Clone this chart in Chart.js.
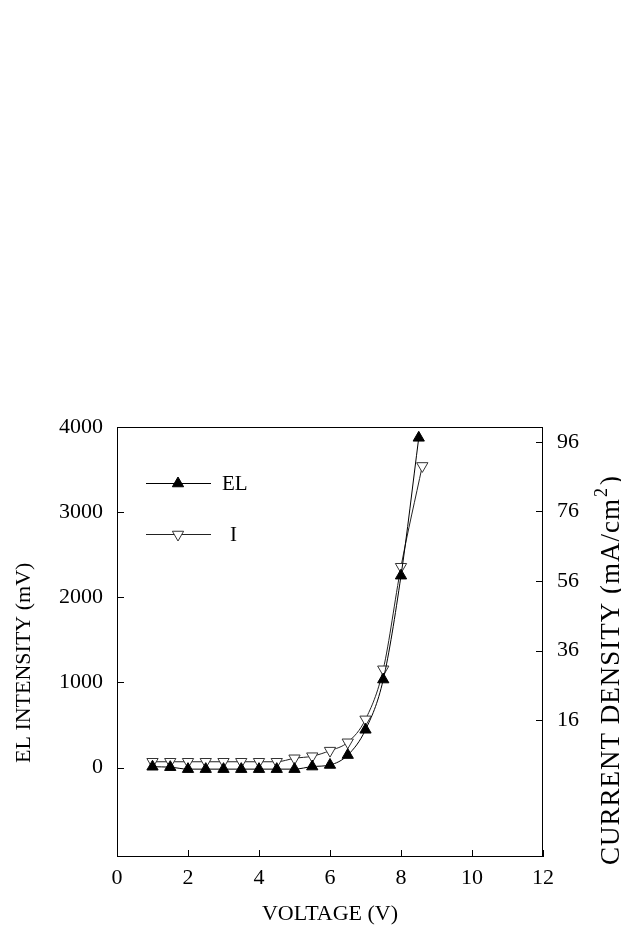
<!DOCTYPE html>
<html>
<head>
<meta charset="utf-8">
<script src="https://cdn.jsdelivr.net/npm/chart.js@4.4.0/dist/chart.umd.min.js"></script>
<style>
    html, body { margin: 0; padding: 0; background: #fff; }
    #wrap { width: 621px; height: 929px; }
</style>
</head>
<body>
<div id="wrap"><canvas id="chart" width="621" height="929"></canvas></div>
<script>
// Values
const elVolts = [1, 1.5, 2, 2.5, 3, 3.5, 4, 4.5, 5, 5.5, 6, 6.5, 7, 7.5, 8, 8.5];
const elIntensity = [10, 5, -18, -18, -18, -18, -18, -18, -18, 12, 31, 147, 444, 1034, 2254, 3873];
const iVolts = [1, 1.5, 2, 2.5, 3, 3.5, 4, 4.5, 5, 5.5, 6, 6.5, 7, 7.5, 8, 8.6];
const currentDensity = [4.0, 4.0, 4.0, 4.0, 4.0, 4.0, 4.0, 4.0, 5.0, 5.6, 7.2, 9.6, 16.2, 30.6, 60.1, 89.1];

// Axis ticks and labels
const xTicks = [0, 2, 4, 6, 8, 10, 12];
const leftTicks = [0, 1000, 2000, 3000, 4000];
const rightTicks = [16, 36, 56, 76, 96];
const legendLabels = ['EL', 'I'];

const FONT = "'Liberation Serif', 'Times New Roman', serif";
const TICK_LEN = 7;

// Frame, inward tick marks, vertical axis titles and the in-plot legend
const decorations = {
    id: 'decorations',
    afterDraw(chart) {
        const { ctx, chartArea: a, scales } = chart;
        ctx.save();
        ctx.strokeStyle = '#000';
        ctx.lineWidth = 1;
        ctx.strokeRect(a.left + 0.5, a.top + 0.5, a.right - a.left - 1, a.bottom - a.top - 1);

        ctx.beginPath();
        scales.x.ticks.forEach(t => {
            const px = Math.round(scales.x.getPixelForValue(t.value)) + 0.5;
            ctx.moveTo(px, a.bottom);
            ctx.lineTo(px, a.bottom - TICK_LEN);
        });
        scales.y.ticks.forEach(t => {
            const py = Math.round(scales.y.getPixelForValue(t.value)) + 0.5;
            ctx.moveTo(a.left, py);
            ctx.lineTo(a.left + TICK_LEN, py);
        });
        scales.y1.ticks.forEach(t => {
            const py = Math.round(scales.y1.getPixelForValue(t.value)) + 0.5;
            ctx.moveTo(a.right, py);
            ctx.lineTo(a.right - TICK_LEN, py);
        });
        ctx.stroke();

        // left title, reads bottom to top
        ctx.fillStyle = '#000';
        ctx.textBaseline = 'middle';
        ctx.textAlign = 'left';
        ctx.save();
        ctx.translate(24, 763);
        ctx.rotate(-Math.PI / 2);
        ctx.font = '22px ' + FONT;
        ctx.fillText('EL INTENSITY (mV)', 0, 0);
        ctx.restore();

        // right title with superscript
        ctx.save();
        ctx.translate(612, 865);
        ctx.rotate(-Math.PI / 2);
        ctx.letterSpacing = '1px';
        ctx.font = '27px ' + FONT;
        const part1 = 'CURRENT DENSITY (mA/cm';
        ctx.fillText(part1, 0, 0);
        let off = ctx.measureText(part1).width;
        ctx.font = '18px ' + FONT;
        ctx.fillText('2', off + 1, -10);
        off += ctx.measureText('2').width + 3;
        ctx.font = '27px ' + FONT;
        ctx.fillText(')', off, 0);
        ctx.restore();

        // legend inside the plot
        const rows = [a.top + 56, a.top + 107];
        const textX = [a.left + 105, a.left + 113];
        chart.data.datasets.forEach((ds, i) => {
            const y = rows[i] + 0.5;
            ctx.beginPath();
            ctx.strokeStyle = ds.borderColor;
            ctx.lineWidth = 1;
            ctx.moveTo(a.left + 29, y);
            ctx.lineTo(a.left + 94, y);
            ctx.stroke();
            ctx.fillStyle = ds.pointBackgroundColor;
            ctx.strokeStyle = ds.pointBorderColor;
            ctx.lineWidth = ds.pointBorderWidth;
            Chart.helpers.drawPoint(ctx, {
                pointStyle: ds.pointStyle,
                rotation: ds.pointRotation,
                radius: ds.pointRadius,
                borderWidth: ds.pointBorderWidth
            }, a.left + 61, y);
            ctx.fillStyle = '#000';
            ctx.font = '21px ' + FONT;
            ctx.fillText(legendLabels[i], textX[i], y + 1);
        });
        ctx.restore();
    }
};

const ctx = document.getElementById('chart').getContext('2d');

new Chart(ctx, {
    type: 'line',
    data: {
        datasets: [
            {
                label: legendLabels[0],
                data: elVolts.map((v, i) => ({ x: v, y: elIntensity[i] })),
                yAxisID: 'y',
                borderColor: '#000',
                borderWidth: 1,
                pointStyle: 'triangle',
                pointRotation: 0,
                pointRadius: 6.5,
                pointBackgroundColor: '#000',
                pointBorderColor: '#000',
                pointBorderWidth: 1,
                cubicInterpolationMode: 'monotone',
                fill: false
            },
            {
                label: legendLabels[1],
                data: iVolts.map((v, i) => ({ x: v, y: currentDensity[i] })),
                yAxisID: 'y1',
                borderColor: '#222',
                borderWidth: 1,
                pointStyle: 'triangle',
                pointRotation: 180,
                pointRadius: 6.5,
                pointBackgroundColor: '#fff',
                pointBorderColor: '#333',
                pointBorderWidth: 1,
                cubicInterpolationMode: 'monotone',
                fill: false
            }
        ]
    },
    options: {
        responsive: false,
        animation: false,
        layout: { padding: { top: 427, left: 0, right: 0, bottom: 0 } },
        plugins: {
            legend: { display: false },
            tooltip: { enabled: false }
        },
        scales: {
            x: {
                type: 'linear',
                min: 0,
                max: 12,
                afterBuildTicks: (scale) => { scale.ticks = xTicks.map(v => ({ value: v })); },
                afterFit: (scale) => { scale.height = 72; },
                grid: { display: false, drawTicks: false },
                border: { display: false },
                ticks: {
                    color: '#000',
                    padding: 8,
                    maxRotation: 0,
                    font: { family: FONT, size: 22 }
                },
                title: {
                    display: true,
                    text: 'VOLTAGE (V)',
                    color: '#000',
                    padding: { top: 0, bottom: 2 },
                    font: { family: FONT, size: 22 }
                }
            },
            y: {
                type: 'linear',
                position: 'left',
                min: -1050,
                max: 4000,
                afterBuildTicks: (scale) => { scale.ticks = leftTicks.map(v => ({ value: v })); },
                afterFit: (scale) => { scale.width = 117; },
                grid: { display: false, drawTicks: false },
                border: { display: false },
                ticks: {
                    color: '#000',
                    padding: 14,
                    callback: (v) => String(v),
                    font: { family: FONT, size: 22 }
                }
            },
            y1: {
                type: 'linear',
                position: 'right',
                min: -23.4,
                max: 100.3,
                afterBuildTicks: (scale) => { scale.ticks = rightTicks.map(v => ({ value: v })); },
                afterFit: (scale) => { scale.width = 78; },
                grid: { display: false, drawTicks: false },
                border: { display: false },
                ticks: {
                    color: '#000',
                    padding: 14,
                    callback: (v) => String(v),
                    font: { family: FONT, size: 22 }
                }
            }
        }
    },
    plugins: [decorations]
});
</script>
</body>
</html>
